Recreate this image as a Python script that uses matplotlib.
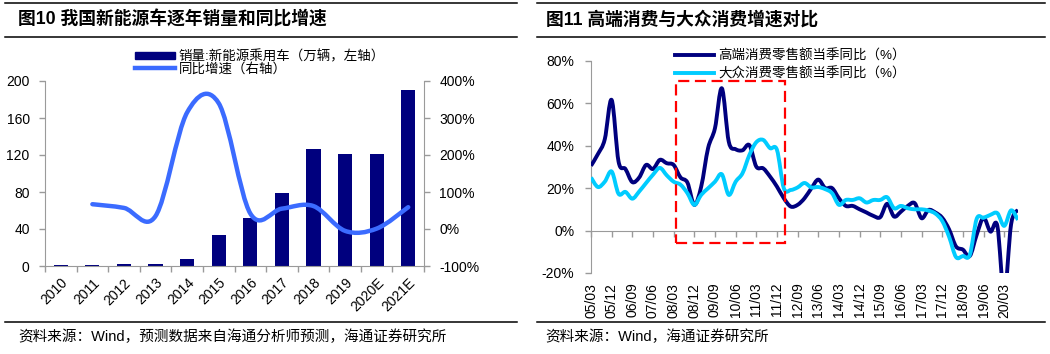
import matplotlib
matplotlib.use('Agg')
import matplotlib.pyplot as plt
from matplotlib.path import Path
from matplotlib.patches import PathPatch, Rectangle, Patch
from matplotlib.lines import Line2D
from matplotlib.ticker import FuncFormatter
import numpy as np

plt.rcParams['font.family'] = ['Liberation Sans', 'Noto Sans CJK SC', 'DejaVu Sans']

# ---------------- data: left chart ----------------
years = ['2010', '2011', '2012', '2013', '2014', '2015', '2016', '2017',
         '2018', '2019', '2020E', '2021E']
sales = [1.0, 1.2, 1.8, 2.5, 8.0, 34, 52, 79, 126.5, 121.4, 120.7, 190.5]
growth = [np.nan, 67, 57, 35, 315, 340, 42, 55, 62, -5, 1, 59]

# ---------------- data: right chart (quarterly, 2005Q1 - 2020Q3) ----------------
high_end = [30.5, 36, 43, 61.5, 32.5, 29, 22.8, 25, 30.9, 29,
            33.3, 31.7, 30.9, 25, 22.6, 12.1, 20.7, 38.8, 48.2, 67,
            41.9, 38.3, 37.8, 40.2, 30.1, 29.3, 25.4, 20.7, 15.2, 11.3,
            12.1, 15.2, 19.9, 24, 20, 20, 15.2, 11.6, 11.6, 10,
            8.5, 6.9, 6.3, 12.6, 6.6, 8.9, 11.6, 12.9, 5.8, 9.7,
            8.5, 6, 0.5, -7.5, -9, -12, -2, 6, -0.5, 2.2,
            -30, 3, 9.8]
mass = [25, 20.5, 23, 27.8, 17.3, 18.2, 15, 18.4, 22.4, 26.3,
        29.5, 26, 23, 21.6, 17.6, 12.1, 16.8, 19.9, 23, 26.5,
        16.8, 23, 27, 35.6, 41.6, 42.7, 38.8, 38, 19.9, 19.1,
        20.3, 22.4, 20.3, 20.5, 19.5, 17.6, 12.1, 14.4, 14.4, 15.2,
        13.2, 14.4, 14.4, 15.7, 10.5, 11.6, 10.5, 10, 10, 9.4,
        8, 4.5, -3, -12.5, -12, -11.5, 5.5, 6, 7.4, 8.2,
        2.2, 9.5, 5]
quarter_ticks = ['05/03', '05/12', '06/09', '07/06', '08/03', '08/12', '09/09',
                 '10/06', '11/03', '11/12', '12/09', '13/06', '14/03', '14/12',
                 '15/09', '16/06', '17/03', '17/12', '18/09', '19/06', '20/03']
tick_step = 3
# highlighted period (quarter index range, value range)
box_x = (12.4, 28.2)
box_y = (-5.8, 70.4)

NAVY = '#00007E'
BLUE = '#3B6BFF'
CYAN = '#00CCFF'
GRAY = '#9A9A9A'
W, H = 1050, 354


def smooth_path(x, y):
    x = np.asarray(x, float)
    y = np.asarray(y, float)
    n = len(x)
    verts = [(x[0], y[0])]
    codes = [Path.MOVETO]
    for i in range(n - 1):
        p0 = np.array([x[max(i - 1, 0)], y[max(i - 1, 0)]])
        p1 = np.array([x[i], y[i]])
        p2 = np.array([x[i + 1], y[i + 1]])
        p3 = np.array([x[min(i + 2, n - 1)], y[min(i + 2, n - 1)]])
        c1 = p1 + (p2 - p0) / 6.0
        c2 = p2 - (p3 - p1) / 6.0
        verts += [tuple(c1), tuple(c2), tuple(p2)]
        codes += [Path.CURVE4] * 3
    return Path(verts, codes)


def fx(px):
    return px / W


def fy(py):
    return 1 - py / H


fig = plt.figure(figsize=(10.5, 3.54), dpi=100)

# ---------- frame lines, titles, sources ----------
for (x0, x1) in [(5, 517), (537, 1045)]:
    for yy in (3, 37, 322):
        fig.add_artist(Line2D([fx(x0), fx(x1)], [fy(yy), fy(yy)], transform=fig.transFigure,
                              color='black', lw=1.1))

fig.text(fx(18), fy(20), '图10 我国新能源车逐年销量和同比增速', fontsize=12.8,
         fontweight='bold', va='center', ha='left')
fig.text(fx(546), fy(20), '图11 高端消费与大众消费增速对比', fontsize=12.8,
         fontweight='bold', va='center', ha='left')
fig.text(fx(18), fy(337), '资料来源：Wind，预测数据来自海通分析师预测，海通证券研究所',
         fontsize=10.5, va='center', ha='left')
fig.text(fx(545), fy(337), '资料来源：Wind，海通证券研究所',
         fontsize=10.5, va='center', ha='left')

# ---------- left chart ----------
ax1 = fig.add_axes([fx(45), fy(266), fx(424 - 45), (266 - 81) / H])
xs = np.arange(len(years))
ax1.bar(xs, sales, width=0.45, color=NAVY, zorder=2)
ax1.set_xlim(-0.5, len(years) - 0.5)
ax1.set_ylim(0, 200)
ax1.set_yticks(np.arange(0, 201, 40))
ax1.set_xticks(xs)
ax1.set_xticklabels(years, rotation=45, ha='right', va='top', rotation_mode='anchor')
ax1.set_xticks(np.arange(-0.5, len(years), 1), minor=True)
ax1.tick_params(axis='x', which='major', length=0, pad=7, labelsize=10)
ax1.tick_params(axis='x', which='minor', length=4, color=GRAY, width=1)
ax1.tick_params(axis='y', length=4, color=GRAY, width=1, pad=7, labelsize=10)
for s in ['top', 'right']:
    ax1.spines[s].set_visible(False)
for s in ['left', 'bottom']:
    ax1.spines[s].set_color(GRAY)

ax2 = ax1.twinx()
ax2.set_ylim(-100, 400)
ax2.set_yticks(np.arange(-100, 401, 100))
ax2.yaxis.set_major_formatter(FuncFormatter(lambda v, p: f'{v:.0f}%'))
ax2.tick_params(axis='y', length=4, color=GRAY, width=1, pad=7, labelsize=10)
for s in ['top', 'left', 'bottom']:
    ax2.spines[s].set_visible(False)
ax2.spines['right'].set_color(GRAY)
gx = xs[1:]
gy = np.array(growth[1:], float)
ax2.add_patch(PathPatch(smooth_path(gx, gy), fill=False, edgecolor=BLUE, lw=3.2,
                        capstyle='round', joinstyle='round', zorder=3))

h1 = [Patch(facecolor=NAVY, edgecolor=NAVY), Line2D([], [], color=BLUE, lw=3.2)]
fig.legend(h1, ['销量:新能源乘用车（万辆，左轴）', '同比增速（右轴）'],
           loc='upper left', bbox_to_anchor=(fx(135), fy(50)), frameon=False,
           fontsize=9.7, handlelength=3.0, handletextpad=0.25, labelspacing=-0.05,
           borderpad=0, borderaxespad=0, handleheight=0.5)

# ---------- right chart ----------
ax3 = fig.add_axes([fx(591), fy(273), fx(1018 - 591), (273 - 60.7) / H])
q = np.arange(len(high_end))
ax3.add_patch(PathPatch(smooth_path(q, high_end), fill=False, edgecolor=NAVY, lw=2.8,
                        joinstyle='round', zorder=3))
ax3.add_patch(PathPatch(smooth_path(q, mass), fill=False, edgecolor=CYAN, lw=2.8,
                        joinstyle='round', zorder=4))
ax3.set_xlim(0, len(high_end) - 1)
ax3.set_ylim(-20, 80)
ax3.set_yticks(np.arange(-20, 81, 20))
ax3.yaxis.set_major_formatter(FuncFormatter(lambda v, p: f'{v:.0f}%'))
ax3.set_xticks(np.arange(0, len(quarter_ticks) * tick_step, tick_step))
ax3.set_xticklabels(quarter_ticks)
ax3.spines['top'].set_position(('data', 0))
ax3.spines['top'].set_color(GRAY)
ax3.spines['left'].set_color(GRAY)
ax3.spines['right'].set_visible(False)
ax3.spines['bottom'].set_visible(False)
ax3.tick_params(axis='x', top=True, bottom=False, labeltop=False, labelbottom=True,
                direction='in', length=4, color=GRAY, width=1, pad=7, labelsize=10,
                labelrotation=90)
ax3.tick_params(axis='y', length=4, color=GRAY, width=1, pad=8, labelsize=10)
ax3.add_patch(Rectangle((box_x[0], box_y[0]), box_x[1] - box_x[0], box_y[1] - box_y[0],
                        fill=False, edgecolor='#FF0000', lw=1.6, ls=(0, (5, 2.5)),
                        clip_on=False, zorder=5))

h2 = [Line2D([], [], color=NAVY, lw=2.8), Line2D([], [], color=CYAN, lw=2.8)]
fig.legend(h2, ['高端消费零售额当季同比（%）', '大众消费零售额当季同比（%）'],
           loc='upper left', bbox_to_anchor=(fx(675), fy(50)), frameon=False,
           fontsize=9.7, handlelength=2.9, handletextpad=0.3, labelspacing=0.3,
           borderpad=0, borderaxespad=0)

fig.savefig('out.png', dpi=100)
